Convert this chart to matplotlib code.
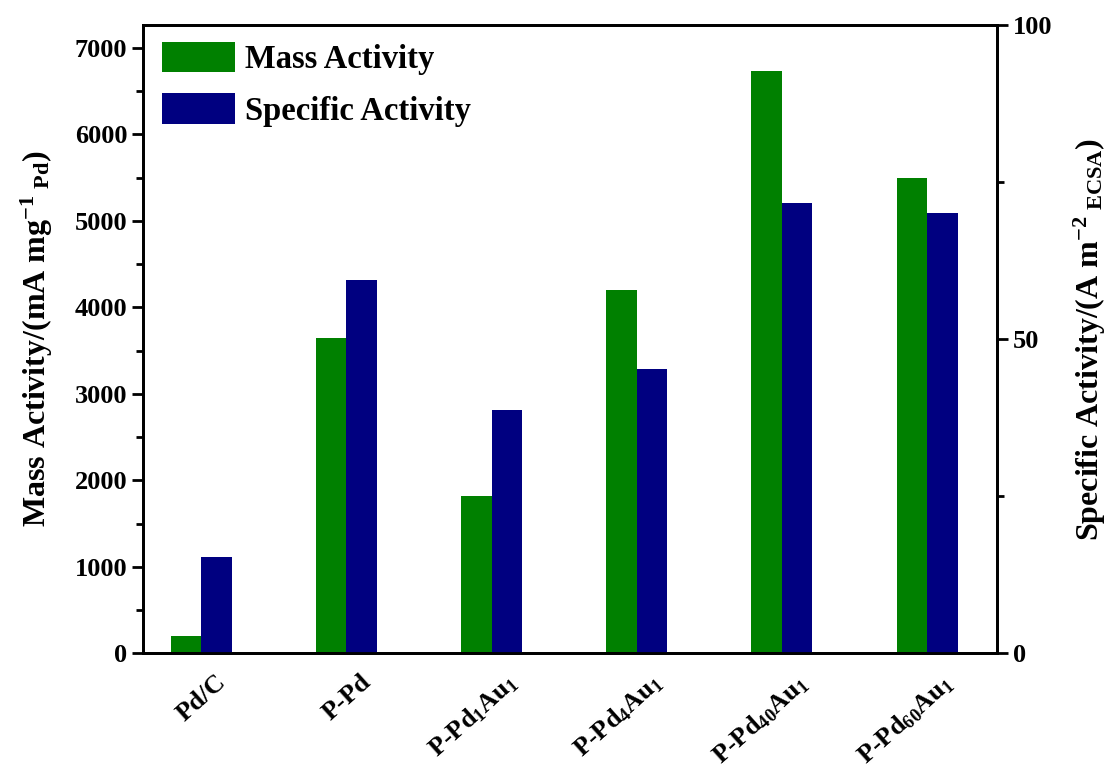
import matplotlib
matplotlib.use("Agg")
import matplotlib.pyplot as plt
import matplotlib.transforms as mtransforms
import numpy as np
from matplotlib.ticker import MultipleLocator
from matplotlib.patches import Patch

categories = ["Pd/C", "P-Pd", "P-Pd$_{1}$Au$_{1}$", "P-Pd$_{4}$Au$_{1}$",
              "P-Pd$_{40}$Au$_{1}$", "P-Pd$_{60}$Au$_{1}$"]
mass_activity = [195, 3650, 1820, 4200, 6730, 5490]
specific_activity = [15.3, 59.4, 38.7, 45.3, 71.7, 70.1]

plt.rcParams['font.family'] = 'Liberation Serif'
plt.rcParams['font.weight'] = 'bold'
plt.rcParams['mathtext.fontset'] = 'custom'
plt.rcParams['mathtext.rm'] = 'Liberation Serif:bold'
plt.rcParams['mathtext.it'] = 'Liberation Serif:bold:italic'
plt.rcParams['mathtext.bf'] = 'Liberation Serif:bold'
plt.rcParams['mathtext.default'] = 'rm'

green = '#008000'
navy = '#000080'

fig = plt.figure(figsize=(11.1, 7.74), dpi=100)
ax = fig.add_axes([0.129, 0.156, 0.769, 0.812])
ax2 = ax.twinx()

x = np.arange(len(categories))
w = 0.21
ax.bar(x - w / 2, mass_activity, w, color=green, zorder=2)
ax2.bar(x + w / 2, specific_activity, w, color=navy, zorder=2)

ax.set_xlim(-0.4, 5.48)
ax.set_ylim(0, 7266)
ax2.set_ylim(0, 100)

ax.yaxis.set_major_locator(MultipleLocator(1000))
ax.yaxis.set_minor_locator(MultipleLocator(500))
ax2.yaxis.set_major_locator(MultipleLocator(50))
ax2.yaxis.set_minor_locator(MultipleLocator(25))

for a in (ax, ax2):
    for s in a.spines.values():
        s.set_linewidth(2)
    a.tick_params(axis='y', which='major', direction='out', length=8, width=2, labelsize=19)
    a.tick_params(axis='y', which='minor', direction='out', length=5, width=2)

ax.tick_params(axis='x', length=0, pad=12)
ax.set_xticks(x)
ax.set_xticklabels(categories, rotation=42, ha='right', va='top',
                   fontsize=19, fontweight='bold',
                   rotation_mode='anchor')
offset = mtransforms.ScaledTranslation(0.14, 0, fig.dpi_scale_trans)
for lbl in ax.get_xticklabels():
    lbl.set_transform(lbl.get_transform() + offset)

ax.set_ylabel("Mass Activity/(mA mg$^{-1}$$_{\\ \\mathrm{Pd}}$)", fontsize=23, fontweight='bold', labelpad=14)
ax2.set_ylabel("Specific Activity/(A m$^{-2}$$_{\\ \\mathrm{ECSA}}$)", fontsize=23, fontweight='bold', labelpad=14)

handles = [Patch(facecolor=green, label='Mass Activity'),
           Patch(facecolor=navy, label='Specific Activity')]
ax.legend(handles=handles, loc='upper left', frameon=False, fontsize=23.5,
          handlelength=2.24, handleheight=1.07, handletextpad=0.3,
          labelspacing=0.56, borderaxespad=0, borderpad=0,
          bbox_to_anchor=(0.022, 0.973))

fig.savefig("out.png", dpi=100)
